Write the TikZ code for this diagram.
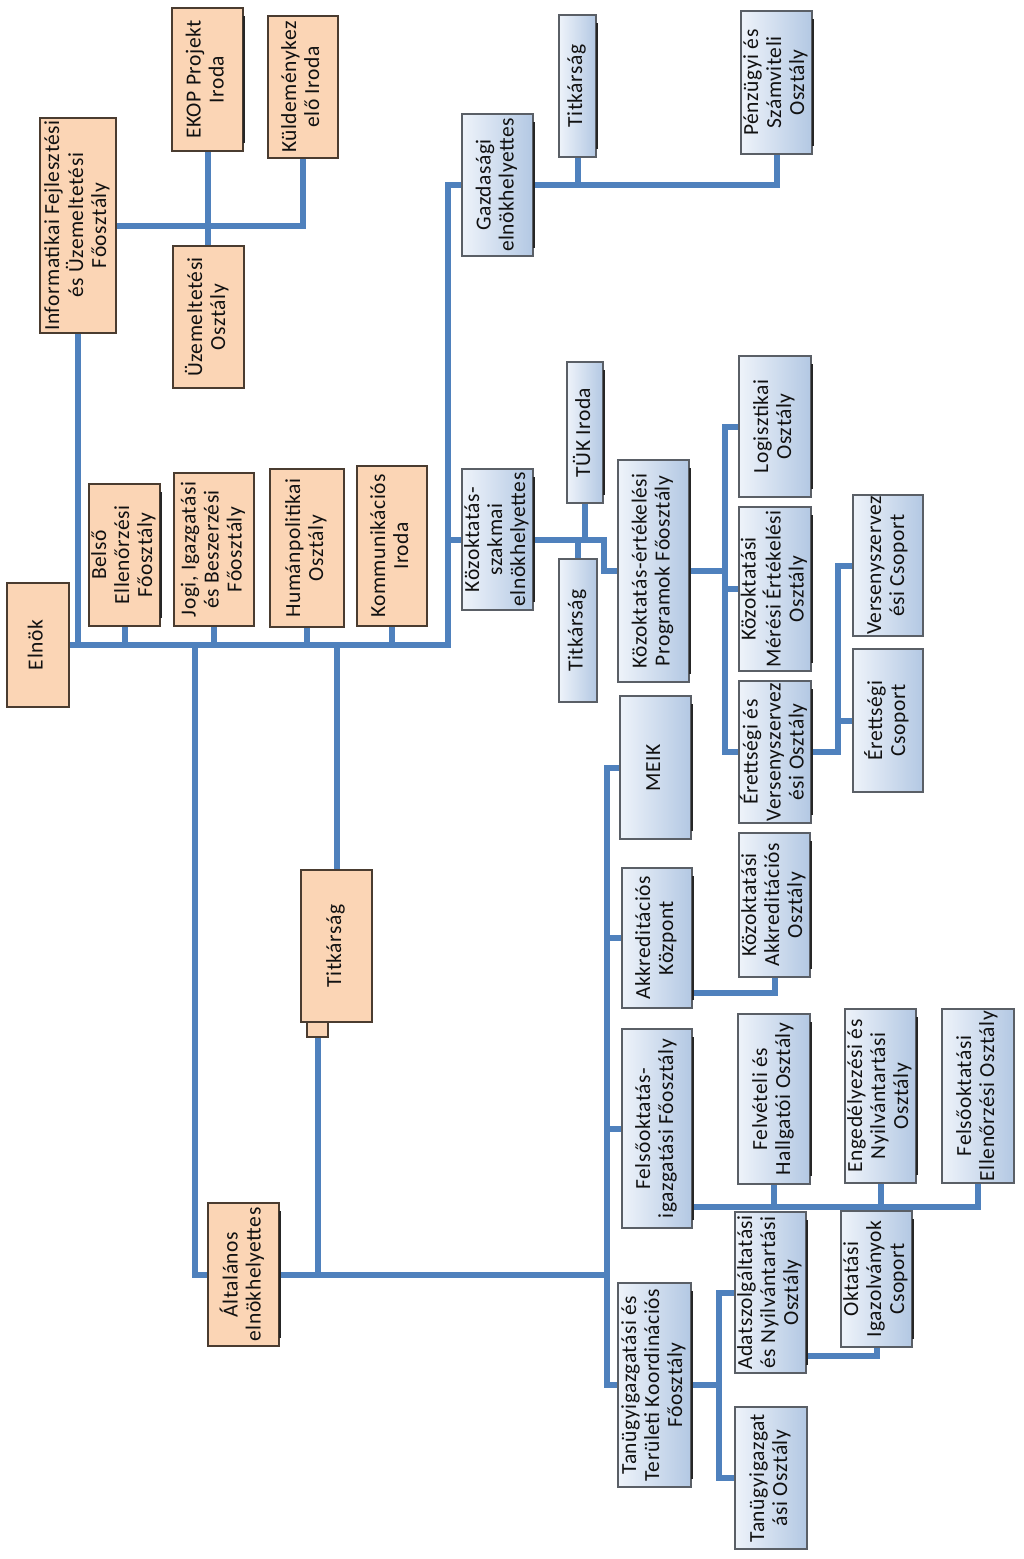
\documentclass[tikz,border=0pt]{standalone}
\usepackage{fontspec}
\setmainfont{Carlito}[LetterSpace=2.5]
\usepackage{graphicx}
\usetikzlibrary{calc}
\pgfdeclarelayer{background}
\pgfsetlayers{background,main}
\definecolor{conn}{HTML}{4F81BD}
\definecolor{ofill}{HTML}{FBD5B5}
\definecolor{odraw}{HTML}{4A3C30}
\definecolor{bleft}{HTML}{EEF3FA}
\definecolor{bright}{HTML}{B3C8E3}
\definecolor{bdraw}{HTML}{5A5F66}
\definecolor{txt}{HTML}{111111}
\newcommand\rt[1]{\rotatebox{90}{\begin{tabular}{@{}c@{}}#1\end{tabular}}}
\newcommand\orgbox[7]{\node[#1, minimum width={#5-#3}, minimum height={#6-#4}] (#2) at ({(#3+#5)/2},{(#4+#6)/2}) {\rt{#7}};}
\begin{document}
\begin{tikzpicture}[x=1pt,y=-1pt,
 font=\fontsize{21.5}{23}\selectfont, text=txt,
 box/.style={rectangle, inner sep=0pt, outer sep=0pt, line width=1.3pt},
 obox/.style={box, draw=odraw, fill=ofill},
 bbox/.style={box, draw=bdraw, left color=bleft, right color=bright},
 conline/.style={draw=conn, line width=6pt, line cap=rect},
 shadline/.style={draw=black!85, line width=2.5pt}]
\useasboundingbox (0,0) rectangle (1024,1559);

% orange boxes
\orgbox{obox}{elnok}{7}{583}{69}{707}{Elnök}
\orgbox{obox}{belso}{89}{484}{160}{626}{Belső\\Ellenőrzési\\Főosztály}
\orgbox{obox}{jogi}{174}{473}{254}{626}{Jogi, Igazgatási\\és Beszerzési\\Főosztály}
\orgbox{obox}{human}{270}{469}{344}{627}{Humánpolitikai\\Osztály}
\orgbox{obox}{komm}{357}{466}{427}{626}{Kommunikációs\\Iroda}
\orgbox{obox}{info}{40}{118}{116}{333}{Informatikai Fejlesztési\\és Üzemeltetési\\Főosztály}
\orgbox{obox}{ekop}{172}{8}{243}{151}{EKOP Projekt\\Iroda}
\orgbox{obox}{kuld}{268}{16}{338}{158}{Küldeménykez\\elő Iroda}
\orgbox{obox}{uzem}{173}{246}{244}{388}{Üzemeltetési\\Osztály}
\orgbox{obox}{titkO}{301}{870}{372}{1022}{Titkárság}
\node[obox, minimum width=21pt, minimum height=15pt] (tab) at (317.5,1029.5) {};
\orgbox{obox}{altal}{208}{1203}{279}{1346}{Általános\\elnökhelyettes}

% blue boxes
\orgbox{bbox}{gazd}{462}{114}{533}{256}{Gazdasági\\elnökhelyettes}
\orgbox{bbox}{titkG}{559}{15}{596}{157}{Titkárság}
\orgbox{bbox}{penz}{741}{11}{812}{154}{Pénzügyi és\\Számviteli\\Osztály}
\orgbox{bbox}{kozsz}{462}{469}{533}{610}{Közoktatás-\\szakmai\\elnökhelyettes}
\orgbox{bbox}{tuk}{567}{362}{603}{503}{TÜK Iroda}
\orgbox{bbox}{titkK}{559}{559}{597}{702}{Titkárság}
\orgbox{bbox}{kozert}{618}{460}{689}{682}{Közoktatás-értékelési\\Programok Főosztály}
\orgbox{bbox}{logi}{739}{356}{811}{497}{Logisztikai\\Osztály}
\orgbox{bbox}{meres}{739}{507}{811}{671}{Közoktatási\\Mérési Értékelési\\Osztály}
\orgbox{bbox}{erettv}{739}{681}{811}{823}{Érettségi és\\Versenyszervez\\ési Osztály}
\orgbox{bbox}{versCs}{853}{495}{923}{636}{Versenyszervez\\ési Csoport}
\orgbox{bbox}{eretCs}{853}{649}{923}{792}{Érettségi\\Csoport}
\orgbox{bbox}{meik}{620}{696}{691}{839}{MEIK}
\orgbox{bbox}{akkr}{622}{868}{692}{1008}{Akkreditációs\\Központ}
\orgbox{bbox}{kozakkr}{739}{833}{810}{977}{Közoktatási\\Akkreditációs\\Osztály}
\orgbox{bbox}{felsoig}{622}{1029}{692}{1228}{Felsőoktatás-\\igazgatási Főosztály}
\orgbox{bbox}{felvet}{738}{1014}{810}{1184}{Felvételi és\\Hallgatói Osztály}
\orgbox{bbox}{enged}{845}{1009}{916}{1183}{Engedélyezési és\\Nyilvántartási\\Osztály}
\orgbox{bbox}{felsoell}{942}{1009}{1014}{1183}{Felsőoktatási\\Ellenőrzési Osztály}
\orgbox{bbox}{oktig}{841}{1211}{912}{1347}{Oktatási\\Igazolványok\\Csoport}
\orgbox{bbox}{adat}{735}{1212}{806}{1373}{Adatszolgáltatási\\és Nyilvántartási\\Osztály}
\orgbox{bbox}{tanugyF}{618}{1283}{691}{1487}{Tanügyigazgatási és\\Területi Koordinációs\\Főosztály}
\orgbox{bbox}{tanugyO}{735}{1407}{807}{1549}{Tanügyigazgat\\ási Osztály}

% shadows on the right edge
\foreach \n in {ekop,belso,altal,gazd,titkG,penz,kozsz,tuk,kozert,logi,meres,erettv,meik,akkr,kozakkr,felsoig,felvet,enged,oktig,adat,tanugyF}
  \draw[shadline] ([xshift=1pt,yshift=-8pt]\n.north east) -- ([xshift=1pt,yshift=8pt]\n.south east);

\begin{pgfonlayer}{background}
\fill[white] (0,0) rectangle (1024,1559);
\coordinate (mainR) at (448,645);
\coordinate (leftJ) at (195,645);
\coordinate (v2) at (607,800);
\coordinate (kj) at (604,540);
\coordinate (kv) at (725,500);
\coordinate (ev) at (838,600);
\coordinate (tv) at (719,1300);
\draw[conline] (elnok.east) -- (mainR) |- (gazd.west);
\draw[conline] (kozsz.west) -- (kozsz.west -| mainR);
\foreach \n in {belso,jogi,human,komm,info}
  \draw[conline] (\n.south) -- (\n.south |- mainR);
\draw[conline] (titkO.north) -- (titkO.north |- mainR);
\draw[conline] (leftJ) |- (altal.west -| v2);
\draw[conline] (tab.south) -- (tab.south |- altal.west);
\draw[conline] (meik.west) -- (meik.west -| v2) -- (tanugyF.west -| v2) -- (tanugyF.west);
\draw[conline] (akkr.west) -- (akkr.west -| v2);
\draw[conline] (felsoig.west) -- (felsoig.west -| v2);
\draw[conline] (info.east) -| (kuld.south);
\draw[conline] (ekop.south) -- (ekop.south |- uzem.north);
\draw[conline] (gazd.east) -| (penz.south);
\draw[conline] (titkG.south) -- (titkG.south |- gazd.east);
\draw[conline] (kozsz.east) -- (kozsz.east -| kj) |- (kozert.west);
\draw[conline] (tuk.south) -- (tuk.south |- kozsz.east);
\draw[conline] (titkK.north) -- (titkK.north |- kozsz.east);
\draw[conline] (logi.west) -- (logi.west -| kv) -- (erettv.west -| kv) -- (erettv.west);
\draw[conline] (kozert.east) -- (kozert.east -| kv);
\draw[conline] (meres.west) -- (meres.west -| kv);
\draw[conline] (versCs.west) -- (versCs.west -| ev) -- (erettv.east -| ev) -- (erettv.east);
\draw[conline] (eretCs.west) -- (eretCs.west -| ev);
\draw[conline] ([yshift=15pt]akkr.south east) -| (kozakkr.south);
\coordinate (fl) at ([yshift=21pt]felsoig.south east);
\draw[conline] (fl) -| (felsoell.south);
\draw[conline] (felvet.south) -- (felvet.south |- fl);
\draw[conline] (enged.south) -- (enged.south |- fl);
\draw[conline] ([yshift=17pt]adat.south east) -| (oktig.south);
\draw[conline] (adat.west) -- (adat.west -| tv) -- (tanugyO.west -| tv) -- (tanugyO.west);
\draw[conline] (tanugyF.east) -- (tanugyF.east -| tv);
\end{pgfonlayer}
\end{tikzpicture}
\end{document}
